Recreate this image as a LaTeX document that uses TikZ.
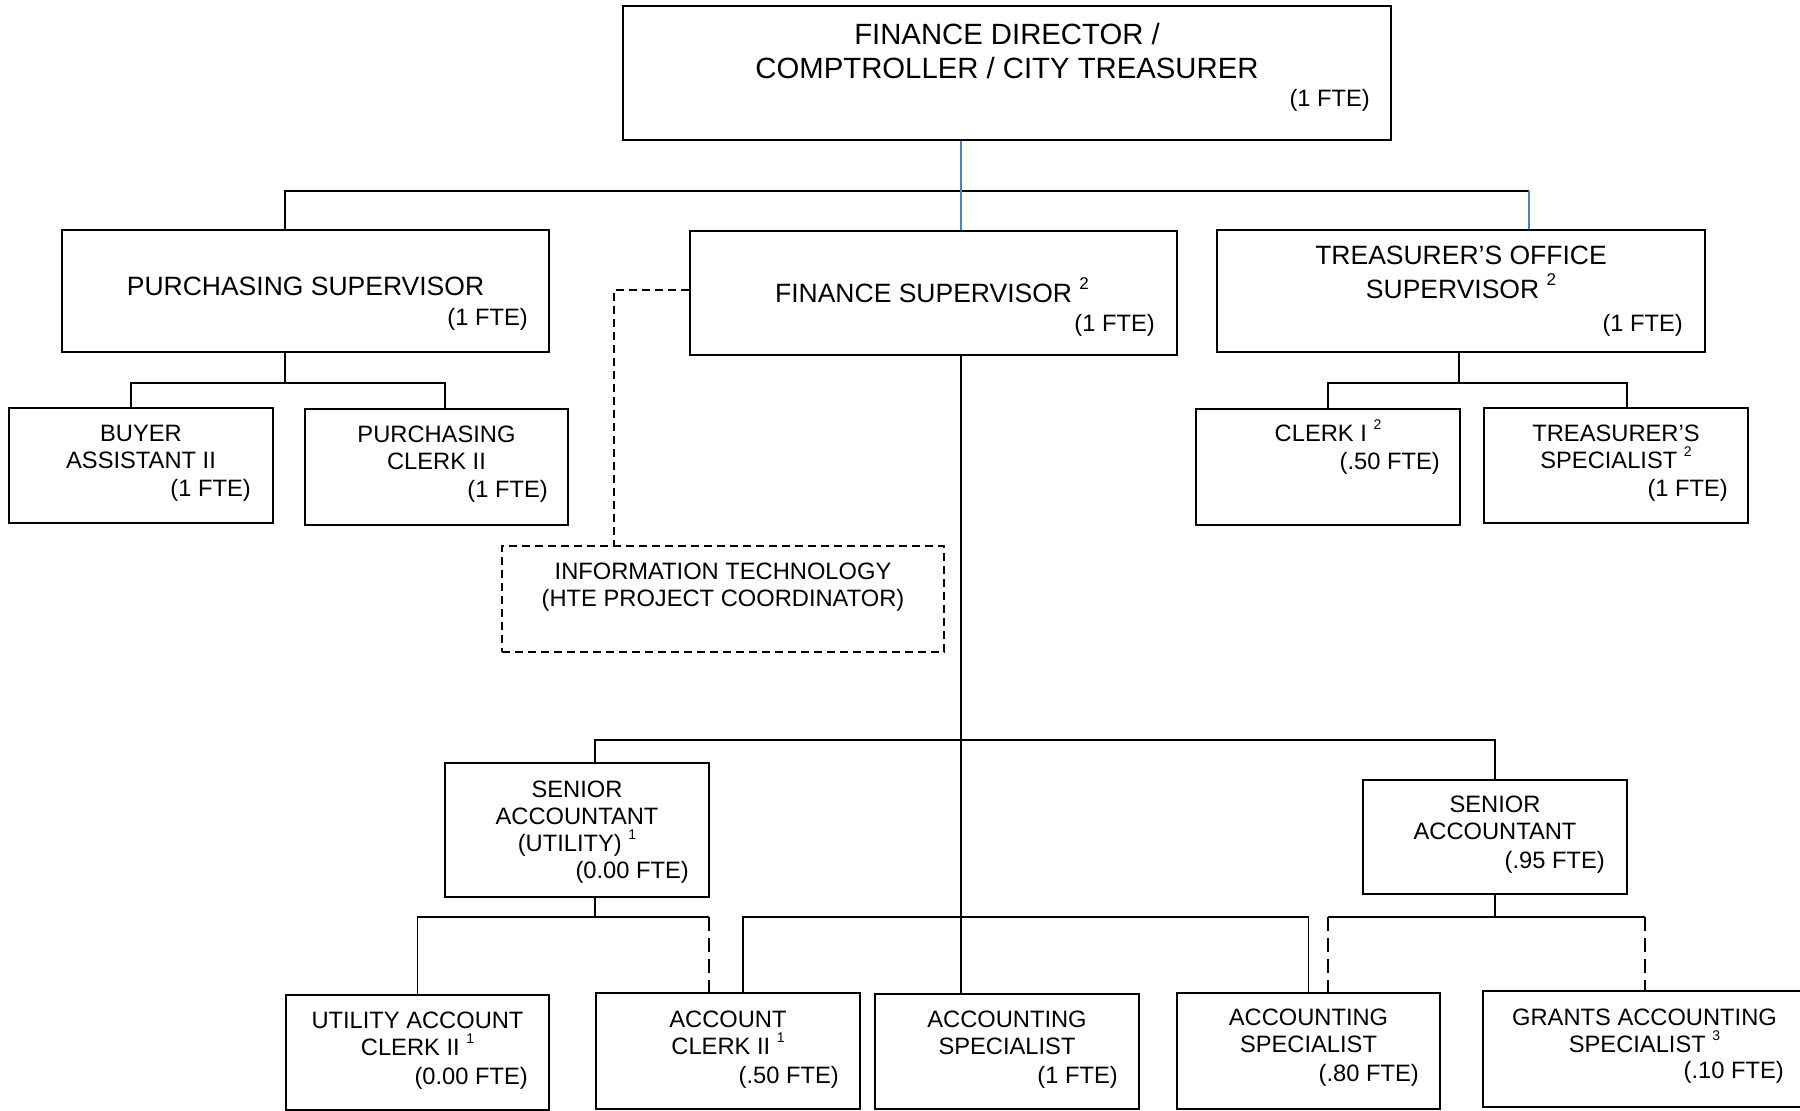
\documentclass[tikz,border=0pt]{standalone}
\usepackage{fontspec}
\setmainfont{Liberation Sans}
\definecolor{linkblue}{RGB}{79,129,189}
\newcommand\fnote[2][14]{\raisebox{0.5em}{\fontsize{#1}{#1}\selectfont #2}}
\tikzset{
  post/.style 2 args={draw, line width=1.3pt, inner sep=0pt, minimum width=#1pt, minimum height=#2pt},
  toptitle/.style={align=center, anchor=base, inner sep=0pt, font=\fontsize{29.3}{34}\selectfont},
  midtitle/.style={align=center, anchor=base, inner sep=0pt, font=\fontsize{26.5}{34}\selectfont},
  jobtitle/.style={align=center, anchor=base, inner sep=0pt, font=\fontsize{23.7}{27}\selectfont},
  fte/.style={anchor=base east, inner sep=0pt, font=\fontsize{23.7}{27}\selectfont},
  link/.style={line width=1.2pt},
  bluelink/.style={line width=1.2pt, draw=linkblue},
  itlink/.style={line width=1.1pt, dash pattern=on 8pt off 5pt},
  dutylink/.style={line width=1.1pt, dash pattern=on 14pt off 7pt}
}
\begin{document}
\begin{tikzpicture}[x=1pt, y=-1pt]
\useasboundingbox (0,0) rectangle (1800,1111);
\clip (0,0) rectangle (1800,1111);

% boxes
\node[post={768}{134}] (dir) at (1007,73) {};
\node[post={487}{122}] (ps) at (305.5,291) {};
\node[post={487}{124}] (fs) at (933.5,293) {};
\node[post={488}{122}] (tos) at (1461,291) {};
\node[post={264}{115}] (buyer) at (141,465.5) {};
\node[post={263}{116}] (pclerk) at (436.5,467) {};
\node[post={264}{116}] (clerk1) at (1328,467) {};
\node[post={264}{115}] (tspec) at (1616,465.5) {};
\node[post={442}{106}, line width=1.1pt, dash pattern=on 8pt off 5pt] (it) at (723,599) {};
\node[post={264}{134}] (sau) at (577,830) {};
\node[post={264}{114}] (sa) at (1495,837) {};
\node[post={263}{115}] (uac) at (417.5,1052.5) {};
\node[post={264}{116}] (ac) at (728,1051) {};
\node[post={264}{115}] (as1) at (1007,1051.5) {};
\node[post={263}{116}] (as2) at (1308.5,1051) {};
\node[post={337}{116}] (grants) at (1651.5,1049) {};

% texts (base = last line)
\node[toptitle] (dir-t) at (1007,78.5) {FINANCE DIRECTOR /\\COMPTROLLER / CITY TREASURER};
\node[fte] (dir-f) at (1370,106.5) {(1 FTE)};
\node[midtitle] (ps-t) at (305.5,295.5) {PURCHASING SUPERVISOR};
\node[fte] (ps-f) at (528,325.5) {(1 FTE)};
\node[midtitle] (fs-t) at (932,302.5) {FINANCE SUPERVISOR \fnote[17]{2}};
\node[fte] (fs-f) at (1155,331.5) {(1 FTE)};
\node[midtitle] (tos-t) at (1461,298.5) {TREASURER’S OFFICE\\SUPERVISOR \fnote[17]{2}};
\node[fte] (tos-f) at (1683,331.5) {(1 FTE)};
\node[jobtitle] (buyer-t) at (141,468.5) {BUYER\\ASSISTANT II};
\node[fte] (buyer-f) at (251,496.5) {(1 FTE)};
\node[jobtitle] (pclerk-t) at (436.5,469.5) {PURCHASING\\CLERK II};
\node[fte] (pclerk-f) at (548,497.5) {(1 FTE)};
\node[jobtitle] (clerk1-t) at (1328,441.5) {CLERK I \fnote{2}};
\node[fte] (clerk1-f) at (1440,469.5) {(.50 FTE)};
\node[jobtitle] (tspec-t) at (1616,468.5) {TREASURER’S\\SPECIALIST \fnote{2}};
\node[fte] (tspec-f) at (1728,496.5) {(1 FTE)};
\node[jobtitle] (it-t) at (723,606.5) {INFORMATION TECHNOLOGY\\(HTE PROJECT COORDINATOR)};
\node[jobtitle] (sau-t) at (577,851.5) {SENIOR\\ACCOUNTANT\\(UTILITY) \fnote{1}};
\node[fte] (sau-f) at (689,878.5) {(0.00 FTE)};
\node[jobtitle] (sa-t) at (1495,839.5) {SENIOR\\ACCOUNTANT};
\node[fte] (sa-f) at (1605,868.5) {(.95 FTE)};
\node[jobtitle] (uac-t) at (417.5,1055.5) {UTILITY ACCOUNT\\CLERK II \fnote{1}};
\node[fte] (uac-f) at (528,1084.5) {(0.00 FTE)};
\node[jobtitle] (ac-t) at (728,1054.5) {ACCOUNT\\CLERK II \fnote{1}};
\node[fte] (ac-f) at (839,1083.5) {(.50 FTE)};
\node[jobtitle] (as1-t) at (1007,1054.5) {ACCOUNTING\\SPECIALIST};
\node[fte] (as1-f) at (1118,1083.5) {(1 FTE)};
\node[jobtitle] (as2-t) at (1308.5,1052.5) {ACCOUNTING\\SPECIALIST};
\node[fte] (as2-f) at (1419,1081.5) {(.80 FTE)};
\node[jobtitle] (grants-t) at (1644.5,1052.5) {GRANTS ACCOUNTING\\SPECIALIST \fnote{3}};
\node[fte] (grants-f) at (1784,1078.5) {(.10 FTE)};

% top level
\coordinate (trunk) at (961,191);
\coordinate (busL) at (285,191);
\coordinate (busR) at (1529,191);
\draw[link] (busL |- ps.north) -- (busL) -- (busR);
\draw[bluelink] (trunk |- dir.south) -- (trunk |- fs.north);
\draw[bluelink] (busR) -- (busR |- tos.north);

% purchasing
\coordinate (pbus) at (285,383);
\draw[link] (pbus |- ps.south) -- (pbus);
\draw[link] ([xshift=-10pt]buyer.north) |- (pbus) -| ([xshift=8.5pt]pclerk.north);

% treasurer
\coordinate (tbus) at (1459,383);
\draw[link] (tbus |- tos.south) -- (tbus);
\draw[link] (clerk1.north) |- (tbus) -| ([xshift=11pt]tspec.north);

% IT
\draw[itlink] ([yshift=3pt]fs.west) -| ([xshift=-109pt]it.north);

% finance
\coordinate (abus) at (961,740);
\draw[link] (trunk |- fs.south) -- (trunk |- as1.north);
\draw[link] ([xshift=18pt]sau.north) |- (abus) -| (sa.north);

% utility
\coordinate (ubus) at (595,917);
\coordinate (ucorner) at (709,917);
\draw[link] (ubus |- sau.south) -- (ubus);
\draw[link] (uac.north) |- (ucorner);
\draw[dutylink] (ucorner) -- (ucorner |- ac.north);

% accounting
\coordinate (cbus) at (961,917);
\draw[link] ([xshift=15pt]ac.north) |- (cbus) -| (as2.north);

% senior accountant
\coordinate (sbusL) at (1328,917);
\coordinate (sbusR) at (1645,917);
\draw[link] (sa.south) -- (sa.south |- sbusL);
\draw[link] (sbusL) -- (sbusR);
\draw[dutylink] (sbusL) -- (sbusL |- as2.north);
\draw[dutylink] (sbusR) -- (sbusR |- grants.north);
\end{tikzpicture}
\end{document}
